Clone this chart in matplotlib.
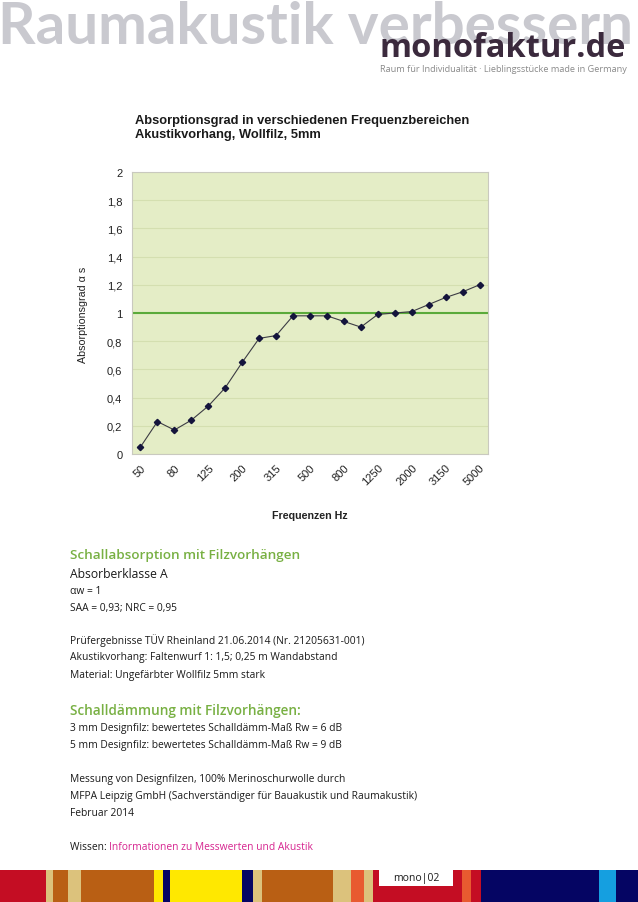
import matplotlib
matplotlib.use("Agg")
import matplotlib.pyplot as plt
import numpy as np
from matplotlib.patches import Rectangle

W, H = 638, 903

# ---- data ----
frequencies = ["50", "63", "80", "100", "125", "160", "200", "250", "315", "400",
               "500", "630", "800", "1000", "1250", "1600", "2000", "2500", "3150",
               "4000", "5000"]
absorption = [0.05, 0.23, 0.17, 0.24, 0.34, 0.47, 0.65, 0.82, 0.84, 0.98,
              0.98, 0.98, 0.94, 0.90, 0.99, 1.00, 1.01, 1.06, 1.11, 1.15, 1.20]
reference_level = 1.0
y_ticks = [0, 0.2, 0.4, 0.6, 0.8, 1.0, 1.2, 1.4, 1.6, 1.8, 2.0]
y_tick_labels = ["0", "0,2", "0,4", "0,6", "0,8", "1", "1,2", "1,4", "1,6", "1,8", "2"]

fig = plt.figure(figsize=(W / 100, H / 100), dpi=100)
fig.patch.set_facecolor("white")


def fx(x):
    return x / W


def fy(y):
    return 1 - y / H


renderer = fig.canvas.get_renderer()

# ---- header ----
# choose the bold family whose "Raumakustik" spans closest to ~303 px
best = None
for fam in ["Roboto", "Lato", "Open Sans", "Noto Sans", "Liberation Sans"]:
    t = fig.text(0, 0, "Raumakustik", fontsize=41, fontweight="bold", family=fam)
    w = t.get_window_extent(renderer=renderer).width
    t.remove()
    if best is None or abs(w - 303) < abs(best[1] - 303):
        best = (fam, w)
head_fam = best[0]
fig.text(fx(-2), fy(44), "Raumakustik verbessern", fontsize=42, fontweight="bold",
         family=head_fam, color="#c9c9cf", ha="left", va="baseline")
fig.text(fx(379), fy(57), "monofaktur.de", fontsize=23.5, fontweight="bold",
         family="Open Sans", color="#3b2a3d", ha="left", va="baseline")
fig.text(fx(380), fy(70), "Raum für Individualität · Lieblingsstücke made in Germany",
         fontsize=6.55, family="Open Sans", color="#8a8a8a", ha="left", va="center")

# ---- chart ----
fig.text(fx(135), fy(121), "Absorptionsgrad in verschiedenen Frequenzbereichen",
         fontsize=9.3, fontweight="bold", family="Liberation Sans", color="#1a1a1a",
         ha="left", va="center")
fig.text(fx(135), fy(135), "Akustikvorhang, Wollfilz, 5mm",
         fontsize=9.3, fontweight="bold", family="Liberation Sans", color="#1a1a1a",
         ha="left", va="center")

L, R, T, B = 132, 488, 173, 455
ax = fig.add_axes([fx(L), fy(B), (R - L) / W, (B - T) / H])
ax.set_facecolor("#e4edc6")
x = np.arange(len(frequencies))
ax.set_xlim(-0.5, len(frequencies) - 0.5)
ax.set_ylim(0, 2)
ax.set_yticks(y_ticks)
ax.set_yticklabels(y_tick_labels, family="Liberation Sans", fontsize=8, color="#222222")
ax.yaxis.grid(True, color="#d4dfb0", lw=0.8)
ax.set_axisbelow(True)
ax.set_xticks(x[::2])
ax.set_xticklabels(frequencies[::2], rotation=45, ha="right", rotation_mode="anchor",
                   family="Liberation Sans", fontsize=8, color="#222222")
ax.tick_params(length=0, pad=7)
ax.tick_params(axis="x", pad=6)
for s in ax.spines.values():
    s.set_color("#c9c9bf")
    s.set_linewidth(0.8)
ax.axhline(reference_level, color="#5aaa3a", lw=1.5, zorder=2)
ax.plot(x, absorption, color="#3c3c44", lw=0.8, marker="D", markersize=3.2,
        markerfacecolor="#14143c", markeredgecolor="#14143c", zorder=3)

fig.text(fx(83), fy(315), "Absorptionsgrad α s", rotation=90, fontsize=7.7,
         family="Liberation Sans", color="#222222", ha="center", va="center")
fig.text(fx(310), fy(516), "Frequenzen Hz", fontsize=7.7, fontweight="bold",
         family="Liberation Sans", color="#222222", ha="center", va="center")

# ---- text block ----
green = "#78b043"
fs = 7.4
body = dict(family="Open Sans", color="#1a1a1a", ha="left", va="center")
fig.text(fx(70), fy(556), "Schallabsorption mit Filzvorhängen", fontsize=9.7,
         fontweight="semibold", family="Open Sans", color=green, ha="left", va="center")
fig.text(fx(70), fy(574), "Absorberklasse A", fontsize=8.7, **body)
fig.text(fx(70), fy(592), "αw = 1", fontsize=fs, **body)
fig.text(fx(70), fy(608), "SAA = 0,93; NRC = 0,95", fontsize=fs, **body)
fig.text(fx(70), fy(641), "Prüfergebnisse TÜV Rheinland 21.06.2014 (Nr. 21205631-001)", fontsize=fs, **body)
fig.text(fx(70), fy(658), "Akustikvorhang: Faltenwurf 1: 1,5; 0,25 m Wandabstand", fontsize=fs, **body)
fig.text(fx(70), fy(676), "Material: Ungefärbter Wollfilz 5mm stark", fontsize=fs, **body)

fig.text(fx(70), fy(711), "Schalldämmung mit Filzvorhängen:", fontsize=9.8,
         fontweight="semibold", family="Open Sans", color=green, ha="left", va="center")
fig.text(fx(70), fy(729), "3 mm Designfilz: bewertetes Schalldämm-Maß Rw = 6 dB", fontsize=fs, **body)
fig.text(fx(70), fy(746), "5 mm Designfilz: bewertetes Schalldämm-Maß Rw = 9 dB", fontsize=fs, **body)
fig.text(fx(70), fy(780), "Messung von Designfilzen, 100% Merinoschurwolle durch", fontsize=fs, **body)
fig.text(fx(70), fy(797), "MFPA Leipzig GmbH (Sachverständiger für Bauakustik und Raumakustik)", fontsize=fs, **body)
fig.text(fx(70), fy(814), "Februar 2014", fontsize=fs, **body)
t1 = fig.text(fx(70), fy(848), "Wissen: ", fontsize=fs, **body)
bb = t1.get_window_extent(renderer=renderer)
fig.text(bb.x1 / W, fy(848), "Informationen zu Messwerten und Akustik", fontsize=fs,
         family="Open Sans", color="#d6248f", ha="left", va="center")

# ---- bottom colour bar ----
red, tan, brown, yellow = "#c40d23", "#dcc27c", "#b95f14", "#ffe800"
navy, orange, cyan = "#050563", "#e85a30", "#159fe0"
stripes = [(0, 46, red), (46, 53, tan), (53, 68, brown), (68, 81, tan),
           (81, 154, brown), (154, 163, yellow), (163, 170, navy), (170, 242, yellow),
           (242, 253, navy), (253, 262, tan), (262, 333, brown), (333, 351, tan),
           (351, 364, orange), (364, 373, tan), (373, 462, red), (462, 471, orange),
           (471, 481, red), (481, 599, navy), (599, 616, cyan), (616, 638, navy)]
for x0, x1, c in stripes:
    fig.patches.append(Rectangle((fx(x0), 0), (x1 - x0) / W, (903 - 871) / H,
                                 transform=fig.transFigure, color=c, lw=0))
fig.patches.append(Rectangle((fx(379), fy(887)), (453 - 379) / W, 16 / H,
                             transform=fig.transFigure, color="white", lw=0))
fig.text(fx(416), fy(879), "mono|02", fontsize=7.5, family="Open Sans",
         color="#1a1a1a", ha="center", va="center")

fig.savefig("out.png", dpi=100)
